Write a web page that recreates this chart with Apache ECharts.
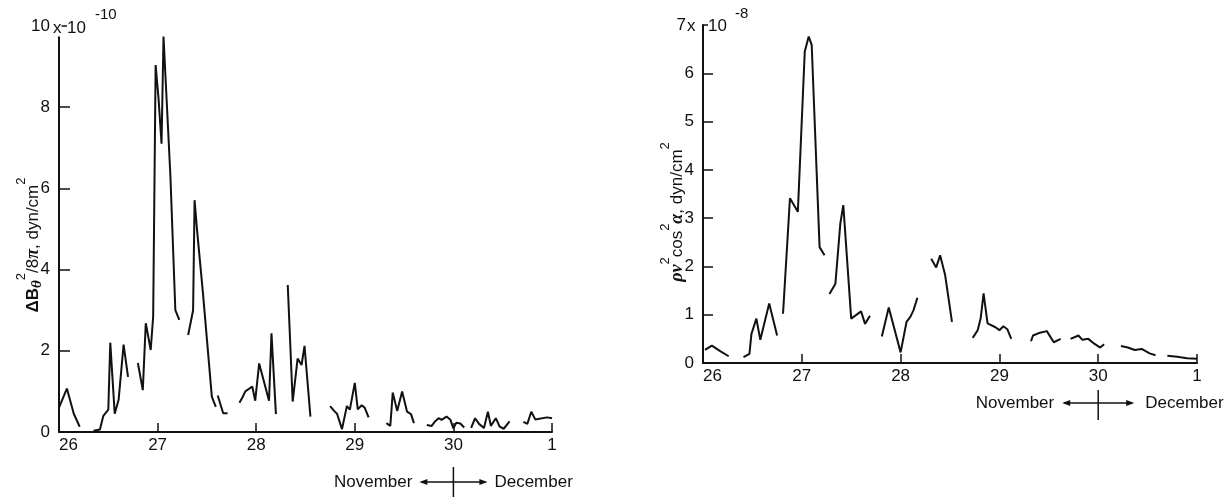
<!DOCTYPE html>
<html><head><meta charset="utf-8">
<script src="https://cdn.jsdelivr.net/npm/echarts@6/dist/echarts.min.js"></script>
<style>html,body{margin:0;padding:0;background:#fff}#c{width:1224px;height:497px}</style>
</head><body><div id="c"></div>
<script>
// Day axis: 26..30 November, 31 = 1 December
const dayTicks = [26, 27, 28, 29, 30, 31];
const dayTickLabels = ['26', '27', '28', '29', '30', '1'];

// Left panel: ΔBθ²/8π (units of 1e-10 dyn/cm²), segments separated by null
const leftDays = [
  26.0, 26.08, 26.15, 26.21, null,
  26.35, 26.415, 26.45, 26.5, 26.52, 26.565, 26.605, 26.655, 26.70, null,
  26.80, 26.85, 26.88, 26.93, 26.955, 26.98, 27.01, 27.04, 27.06, 27.08, 27.13, 27.18, 27.22, null,
  27.31, 27.36, 27.375, 27.40, 27.46, 27.55, 27.59, null,
  27.61, 27.665, 27.71, null,
  27.83, 27.86, 27.89, 27.96, 27.99, 28.03, 28.13, 28.155, 28.2, null,
  28.32, 28.37, 28.42, 28.46, 28.49, 28.55, null,
  28.75, 28.79, 28.82, 28.87, 28.92, 28.95, 29.0, 29.03, 29.07, 29.1, 29.14, null,
  29.32, 29.36, 29.385, 29.43, 29.48, 29.53, 29.57, 29.6, null,
  29.73, 29.78, 29.81, 29.85, 29.88, 29.93, 29.97, 30.0, 30.03, 30.07, 30.11, null,
  30.18, 30.22, 30.26, 30.31, 30.35, 30.38, 30.43, 30.47, 30.51, 30.57, null,
  30.71, 30.75, 30.79, 30.83, 30.95, 31.0
];
const leftValues = [
  0.6, 1.07, 0.45, 0.13, null,
  0.03, 0.06, 0.4, 0.55, 2.2, 0.45, 0.8, 2.15, 1.36, null,
  1.7, 1.03, 2.68, 2.02, 2.84, 9.04, 8.2, 7.1, 9.74, 8.75, 6.3, 3.0, 2.76, null,
  2.39, 3.0, 5.71, 4.98, 3.42, 0.87, 0.62, null,
  0.9, 0.46, 0.46, null,
  0.72, 0.85, 1.0, 1.12, 0.77, 1.69, 0.77, 2.43, 0.44, null,
  3.62, 0.75, 1.81, 1.65, 2.12, 0.38, null,
  0.64, 0.52, 0.45, 0.07, 0.64, 0.55, 1.21, 0.56, 0.66, 0.6, 0.36, null,
  0.22, 0.15, 0.97, 0.52, 1.0, 0.5, 0.44, 0.22, null,
  0.17, 0.15, 0.25, 0.34, 0.3, 0.38, 0.3, 0.09, 0.23, 0.21, 0.11, null,
  0.1, 0.34, 0.2, 0.1, 0.5, 0.15, 0.34, 0.13, 0.08, 0.26, null,
  0.25, 0.2, 0.5, 0.31, 0.36, 0.34
];

// Right panel: ρv²cos²α (units of 1e-8 dyn/cm²)
const rightDays = [
  26.02, 26.09, 26.17, 26.26, null,
  26.41, 26.47, 26.49, 26.54, 26.58, 26.67, 26.75, null,
  26.81, 26.88, 26.96, 27.03, 27.07, 27.1, 27.18, 27.23, null,
  27.28, 27.34, 27.39, 27.42, 27.5, 27.6, 27.64, 27.69, null,
  27.81, 27.88, 28.0, 28.06, 28.1, 28.13, 28.17, null,
  28.31, 28.36, 28.4, 28.45, 28.52, null,
  28.73, 28.78, 28.81, 28.84, 28.88, 28.96, 29.0, 29.04, 29.08, 29.12, null,
  29.32, 29.34, 29.4, 29.48, 29.55, 29.62, null,
  29.72, 29.8, 29.84, 29.9, 29.96, 30.02, 30.06, null,
  30.23, 30.3, 30.37, 30.44, 30.52, 30.58, null,
  30.7, 30.8, 30.9, 31.0
];
const rightValues = [
  0.27, 0.36, 0.25, 0.14, null,
  0.12, 0.19, 0.6, 0.92, 0.48, 1.23, 0.57, null,
  1.02, 3.41, 3.13, 6.45, 6.76, 6.59, 2.4, 2.23, null,
  1.43, 1.64, 2.89, 3.27, 0.92, 1.07, 0.81, 0.98, null,
  0.55, 1.15, 0.22, 0.85, 0.96, 1.09, 1.35, null,
  2.16, 1.98, 2.23, 1.83, 0.85, null,
  0.52, 0.68, 0.92, 1.44, 0.82, 0.74, 0.68, 0.76, 0.7, 0.5, null,
  0.45, 0.57, 0.62, 0.66, 0.43, 0.5, null,
  0.5, 0.57, 0.48, 0.5, 0.4, 0.32, 0.39, null,
  0.35, 0.32, 0.27, 0.29, 0.2, 0.16, null,
  0.15, 0.13, 0.1, 0.09
];

const FONT = '"Liberation Sans", Arial, sans-serif';
const INK = '#111';

function segments(xs, ys) {
  const out = []; let cur = [];
  for (let i = 0; i < xs.length; i++) {
    if (xs[i] === null || ys[i] === null) { if (cur.length) out.push(cur); cur = []; }
    else cur.push([xs[i], ys[i]]);
  }
  if (cur.length) out.push(cur);
  return out;
}

function dayLabel(v) {
  const i = dayTicks.indexOf(Math.round(v));
  return i >= 0 ? dayTickLabels[i] : '';
}

function xAxis(gridIndex) {
  return {
    type: 'value', gridIndex, min: 26, max: 31, interval: 1,
    axisLine: { show: true, onZero: false, lineStyle: { color: INK, width: 2 } },
    axisTick: { show: true, inside: true, length: 9, lineStyle: { color: INK, width: 1.5 } },
    axisLabel: { formatter: dayLabel, color: INK, fontFamily: FONT, fontSize: 17, margin: 5, alignMinLabel: 'left' },
    splitLine: { show: false }
  };
}

const subSup = {
  n: { fontFamily: FONT, fontSize: 17, color: INK, lineHeight: 36 },
  b: { fontFamily: FONT, fontWeight: 'bold', fontSize: 17, color: INK, lineHeight: 36 },
  bi: { fontFamily: '"Liberation Serif", serif', fontWeight: 'bold', fontStyle: 'italic', fontSize: 18, color: INK, lineHeight: 36 },
  sub: { fontFamily: '"Liberation Serif", serif', fontWeight: 'bold', fontStyle: 'italic', fontSize: 15, color: INK, lineHeight: 36, padding: [8, 0, 0, 0] },
  sup: { fontFamily: FONT, fontSize: 13, color: INK, lineHeight: 14, verticalAlign: 'top' }
};

const option = {
  animation: false,
  backgroundColor: '#fff',
  grid: [
    { left: 59, right: 672, top: 26, bottom: 65 },
    { left: 703, right: 27, top: 25, bottom: 134 }
  ],
  xAxis: [xAxis(0), xAxis(1)],
  yAxis: [
    {
      type: 'value', gridIndex: 0, min: 0, max: 10, interval: 2,
      name: '{b|Δ}{b|B}{sub|θ}{sup|2}{n|/8}{bi|π}{n|, dyn/cm}{sup|2}',
      nameLocation: 'middle', nameRotate: 90, nameGap: 8, nameMoveOverlap: false,
      nameTextStyle: { rich: subSup, padding: [0, 32, 0, 0] },
      axisLine: { show: true, lineStyle: { color: INK, width: 2 } },
      axisTick: { show: true, inside: true, length: 11, lineStyle: { color: INK, width: 1.5 } },
      axisLabel: { color: INK, fontFamily: FONT, fontSize: 17, margin: 9 },
      splitLine: { show: false }
    },
    {
      type: 'value', gridIndex: 1, min: 0, max: 7, interval: 1,
      name: '{bi|ρv}{sup|2}{n|cos}{sup|2}{bi|α}{n|, dyn/cm}{sup|2}',
      nameLocation: 'middle', nameRotate: 90, nameGap: 8, nameMoveOverlap: false,
      nameTextStyle: { rich: subSup, padding: [0, 36, 0, 0] },
      axisLine: { show: true, lineStyle: { color: INK, width: 2 } },
      axisTick: { show: true, inside: true, length: 10, lineStyle: { color: INK, width: 1.5 } },
      axisLabel: {
        color: INK, fontFamily: FONT, fontSize: 17, margin: 9,
        formatter: v => v === 7 ? '{top|7}' : String(v),
        rich: { top: { fontFamily: FONT, fontSize: 17, color: INK, padding: [0, 8, 0, 0] } }
      },
      splitLine: { show: false }
    }
  ],
  series: [
    ...segments(leftDays, leftValues).map(d => ({
      type: 'line', xAxisIndex: 0, yAxisIndex: 0, data: d, showSymbol: false, silent: true,
      lineStyle: { color: INK, width: 2 }
    })),
    ...segments(rightDays, rightValues).map(d => ({
      type: 'line', xAxisIndex: 1, yAxisIndex: 1, data: d, showSymbol: false, silent: true,
      lineStyle: { color: INK, width: 2 }
    }))
  ]
};

const chart = echarts.init(document.getElementById('c'), null, { renderer: 'canvas' });
chart.setOption(option);

function txt(x, y, s, size, align, bg) {
  return { type: 'text', z: 100, x, y, style: { text: s, fontFamily: FONT, fontSize: size, fill: INK,
    align: align || 'left', verticalAlign: 'middle', backgroundColor: bg ? '#fff' : null } };
}
function seg(x1, y1, x2, y2, w) {
  return { type: 'line', z: 100, shape: { x1, y1, x2, y2 }, style: { stroke: INK, lineWidth: w || 1.5 } };
}
function head(x, y, dir) {
  return { type: 'polygon', z: 100, shape: { points: [[x, y], [x - dir * 8, y - 3], [x - dir * 8, y + 3]] }, style: { fill: INK } };
}
function monthMarker(cx, y, vTop, vBot, half, gapL, gapR) {
  return [
    txt(cx - gapL, y, 'November', 17, 'right'),
    txt(cx + gapR, y, 'December', 17, 'left'),
    seg(cx - half, y, cx + half, y, 1.5),
    head(cx - half - 2, y, -1),
    head(cx + half + 2, y, 1),
    seg(cx, vTop, cx, vBot, 1.5)
  ];
}

const pL = chart.convertToPixel({ xAxisIndex: 0, yAxisIndex: 0 }, [30, 0]);
const pR = chart.convertToPixel({ xAxisIndex: 1, yAxisIndex: 1 }, [30, 0]);

chart.setOption({
  graphic: [
    txt(53, 28, 'x', 17, 'left', true),
    txt(67, 28, '10', 17, 'left', true),
    txt(95, 15, '-10', 15, 'left'),
    txt(687, 26, 'x', 17, 'left', true),
    txt(708, 26, '10', 17, 'left', true),
    txt(735, 14, '-8', 15, 'left'),
    ...monthMarker(pL[0], 482, 467, 497, 32, 41, 41),
    ...monthMarker(pR[0], 403, 390, 420, 34, 44, 47)
  ]
});
</script>
</body></html>
